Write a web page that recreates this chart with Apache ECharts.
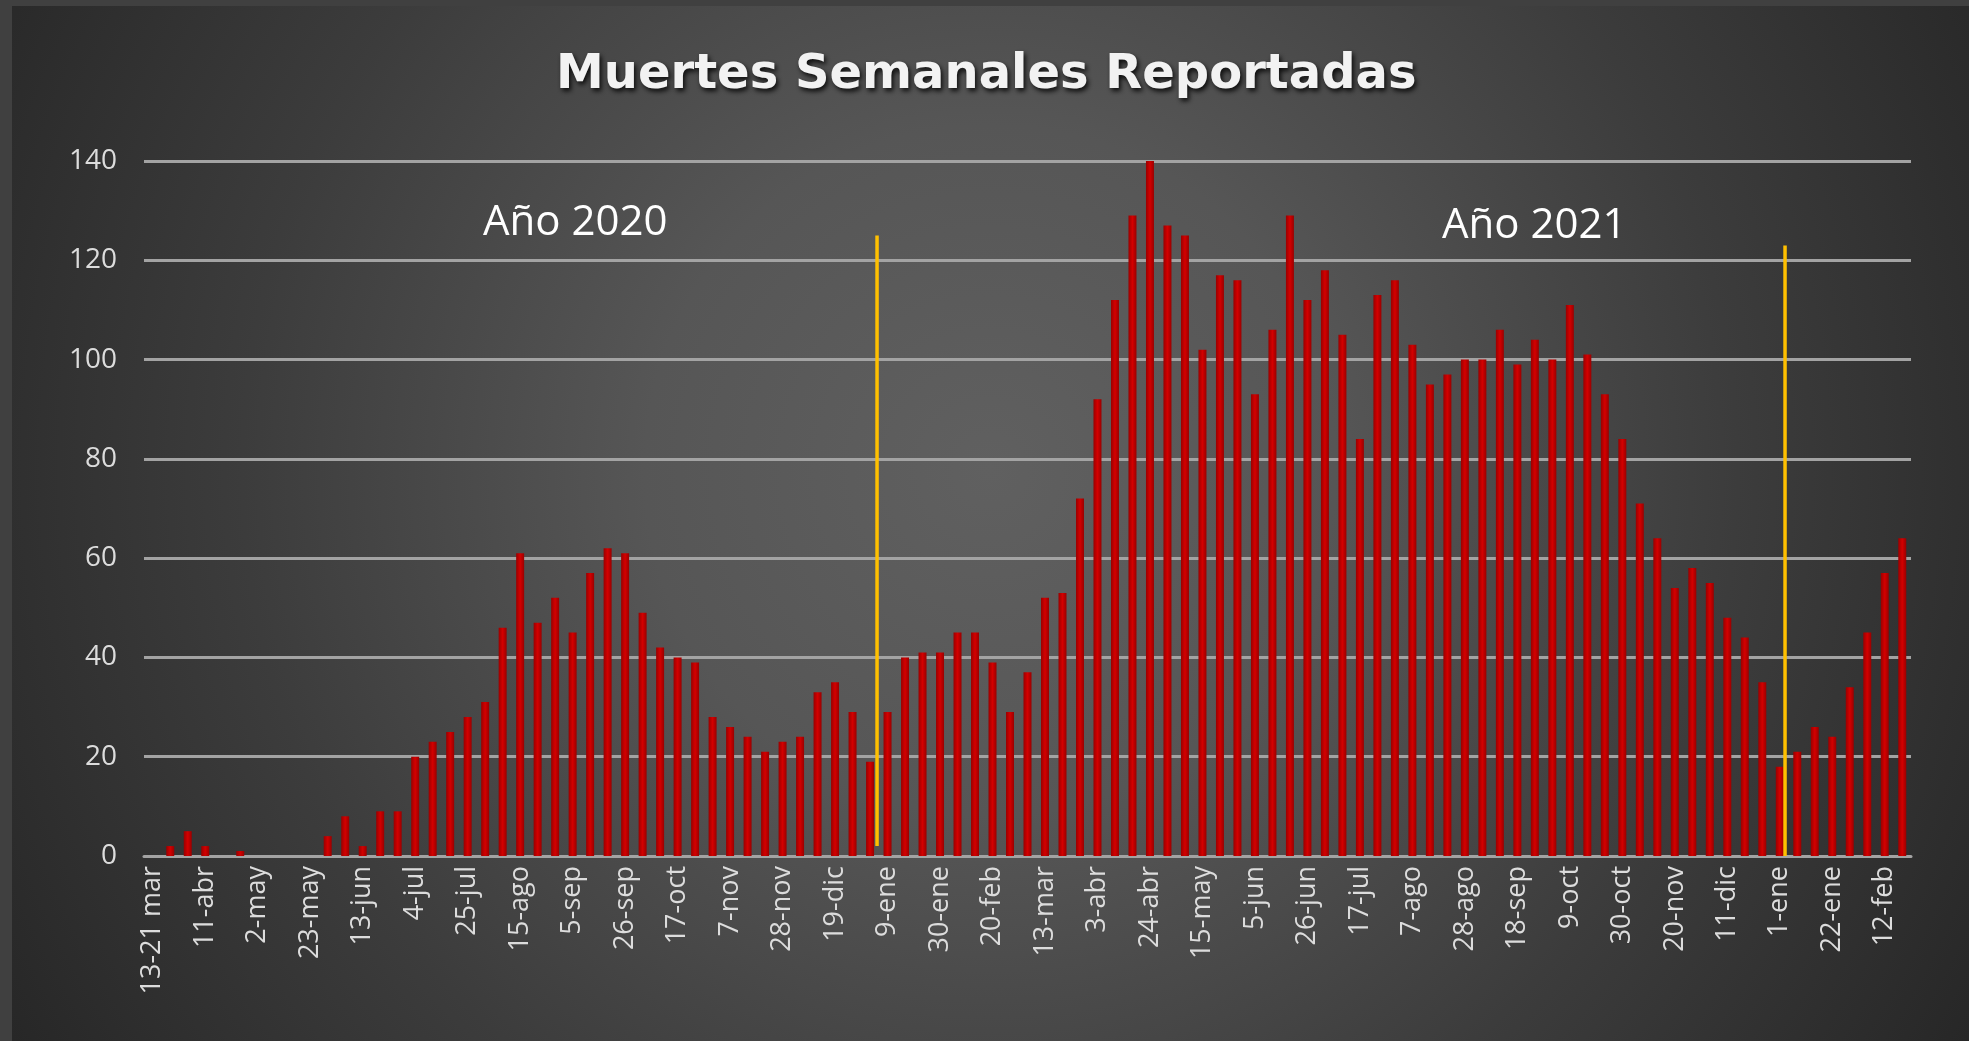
<!DOCTYPE html>
<html>
<head>
<meta charset="utf-8">
<script src="https://cdn.jsdelivr.net/npm/echarts@6/dist/echarts.min.js"></script>
<style>
html,body{margin:0;padding:0;background:#404040;}
#chart{width:1969px;height:1041px;}
</style>
</head>
<body>
<div id="chart"></div>
<script>
// ---- data ----
var weeks = [
  '13-21 mar','28-mar','4-abr','11-abr','18-abr','25-abr','2-may','9-may','16-may','23-may',
  '30-may','6-jun','13-jun','20-jun','27-jun','4-jul','11-jul','18-jul','25-jul','1-ago',
  '8-ago','15-ago','22-ago','29-ago','5-sep','12-sep','19-sep','26-sep','3-oct','10-oct',
  '17-oct','24-oct','31-oct','7-nov','14-nov','21-nov','28-nov','5-dic','12-dic','19-dic',
  '26-dic','2-ene','9-ene','16-ene','23-ene','30-ene','6-feb','13-feb','20-feb','27-feb',
  '6-mar','13-mar','20-mar','27-mar','3-abr','10-abr','17-abr','24-abr','1-may','8-may',
  '15-may','22-may','29-may','5-jun','12-jun','19-jun','26-jun','3-jul','10-jul','17-jul',
  '24-jul','31-jul','7-ago','14-ago','21-ago','28-ago','4-sep','11-sep','18-sep','25-sep',
  '2-oct','9-oct','16-oct','23-oct','30-oct','6-nov','13-nov','20-nov','27-nov','4-dic',
  '11-dic','18-dic','25-dic','1-ene','8-ene','15-ene','22-ene','29-ene','5-feb','12-feb',
  '19-feb'
];
var deaths = [
  0, 2, 5, 2, 0, 1, 0, 0, 0, 0,
  4, 8, 2, 9, 9, 20, 23, 25, 28, 31,
  46, 61, 47, 52, 45, 57, 62, 61, 49, 42,
  40, 39, 28, 26, 24, 21, 23, 24, 33, 35,
  29, 19, 29, 40, 41, 41, 45, 45, 39, 29,
  37, 52, 53, 72, 92, 112, 129, 140, 127, 125,
  102, 117, 116, 93, 106, 129, 112, 118, 105, 84,
  113, 116, 103, 95, 97, 100, 100, 106, 99, 104,
  100, 111, 101, 93, 84, 71, 64, 54, 58, 55,
  48, 44, 35, 18, 21, 26, 24, 34, 45, 57,
  64
];
var yTicks = [0, 20, 40, 60, 80, 100, 120, 140];
// year separator lines: [category position, value]
var yearLine2020 = [[41.4, 2], [41.4, 125]];
var yearLine2021 = [[93.3, 0], [93.3, 123]];
var titleText = 'Muertes Semanales Reportadas';
var yearLabels = ['Año 2020', 'Año 2021'];

// ---- chart ----
var chart = echarts.init(document.getElementById('chart'), null, {renderer: 'canvas'});
var option = {
  backgroundColor: '#404040',
  animation: false,
  graphic: [
    {
      type: 'rect', z: -10, silent: true,
      shape: {x: 12, y: 6, width: 1957, height: 1035},
      style: {
        fill: {
          type: 'radial', x: 990, y: 470, r: 1150, global: true,
          colorStops: [
            {offset: 0, color: '#606060'},
            {offset: 0.3, color: '#565656'},
            {offset: 0.65, color: '#3c3c3c'},
            {offset: 1, color: '#262626'}
          ]
        }
      }
    }
  ],
  title: [
    {
      text: titleText, left: 556, top: 52, padding: 0,
      textStyle: {
        color: '#f2f2f2', fontSize: 48, fontWeight: 'bold', fontFamily: 'DejaVu Sans',
        textShadowColor: 'rgba(0,0,0,0.85)', textShadowBlur: 5,
        textShadowOffsetX: 2, textShadowOffsetY: 3
      }
    },
    {
      text: yearLabels[0], left: 483, top: 202, padding: 0,
      textStyle: {color: '#ffffff', fontSize: 42, fontWeight: 'normal', fontFamily: 'Open Sans'}
    },
    {
      text: yearLabels[1], left: 1442, top: 205, padding: 0,
      textStyle: {color: '#ffffff', fontSize: 42, fontWeight: 'normal', fontFamily: 'Open Sans'}
    }
  ],
  grid: {left: 144, right: 58, top: 161, bottom: 185, containLabel: false, outerBoundsMode: 'none'},
  xAxis: [
    {
      type: 'category', data: weeks, boundaryGap: true,
      axisLine: {show: true, lineStyle: {color: '#a3a3a3', width: 3}},
      axisTick: {show: false},
      axisLabel: {
        interval: 2, rotate: 90, margin: 10,
        color: '#dcdcdc', fontSize: 27, fontFamily: 'Open Sans'
      },
      splitLine: {show: false}
    },
    {
      type: 'value', min: -0.5, max: 100.5, show: false,
      splitLine: {show: false}
    }
  ],
  yAxis: {
    type: 'value', min: yTicks[0], max: yTicks[yTicks.length - 1], interval: 20,
    axisLine: {show: false}, axisTick: {show: false},
    axisLabel: {color: '#dcdcdc', fontSize: 28, fontFamily: 'Open Sans', margin: 27},
    splitLine: {show: true, lineStyle: {color: '#a3a3a3', width: 3}}
  },
  series: [
    {
      type: 'bar', data: deaths, barWidth: 8, xAxisIndex: 0,
      itemStyle: {
        color: {
          type: 'linear', x: 0, y: 0, x2: 1, y2: 0,
          colorStops: [
            {offset: 0, color: '#9a0000'},
            {offset: 0.5, color: '#d40000'},
            {offset: 1, color: '#9a0000'}
          ]
        }
      }
    },
    {
      type: 'line', xAxisIndex: 1, data: yearLine2020, symbol: 'none',
      lineStyle: {color: '#ffc000', width: 3.5}, z: 5
    },
    {
      type: 'line', xAxisIndex: 1, data: yearLine2021, symbol: 'none',
      lineStyle: {color: '#ffc000', width: 3.5}, z: 5
    }
  ]
};
chart.setOption(option);
</script>
</body>
</html>
